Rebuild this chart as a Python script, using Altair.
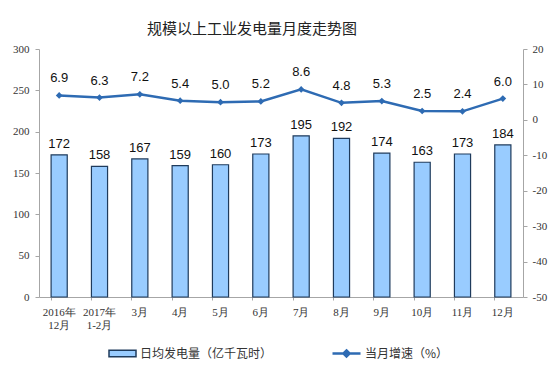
import altair as alt
import pandas as pd

months = ["2016年\n12月", "2017年\n1-2月", "3月", "4月", "5月", "6月",
          "7月", "8月", "9月", "10月", "11月", "12月"]
output = [172, 158, 167, 159, 160, 173, 195, 192, 174, 163, 173, 184]
growth = [6.9, 6.3, 7.2, 5.4, 5.0, 5.2, 8.6, 4.8, 5.3, 2.5, 2.4, 6.0]
bar_name = "日均发电量（亿千瓦时）"
line_name = "当月增速（%）"
left_ticks = [0, 50, 100, 150, 200, 250, 300]
right_ticks = [-50, -40, -30, -20, -10, 0, 10, 20]

df = pd.DataFrame({"month": months, "output": output, "growth": growth,
                   "bs": [bar_name] * len(months), "ls": [line_name] * len(months)})

BAR_FILL = "#99CCFF"
BAR_STROKE = "#1F3B5C"
LINE = "#2E6BB3"
AX = "#A6A6A6"
SERIF = "Liberation Serif"
SANS = "Liberation Sans"
CJK = "Noto Sans CJK SC"

x = alt.X("month:N", sort=months,
          scale=alt.Scale(paddingInner=0.6, paddingOuter=0.3),
          axis=alt.Axis(title=None, labelAngle=0,
                        labelExpr="split(datum.label, '\\n')",
                        labelFont=SERIF, labelFontSize=11, labelColor="#333",
                        labelPadding=6, labelLineHeight=13,
                        domainColor=AX, tickColor=AX, tickSize=3,
                        bandPosition=0, grid=False))

base = alt.Chart(df).encode(x=x)

yl_scale = alt.Scale(domain=[0, 300], nice=False)
yr_scale = alt.Scale(domain=[-50, 20], nice=False)
yl_axis = alt.Axis(title=None, values=left_ticks, labelFont=SERIF,
                   labelFontSize=11, labelColor="#333", domainColor=AX,
                   tickColor=AX, tickSize=4, labelPadding=6, grid=False)
yr_axis = alt.Axis(title=None, orient="right", values=right_ticks,
                   labelExpr="replace(datum.label, '\u2212', '-')",
                   labelFont=SERIF, labelFontSize=11, labelColor="#333",
                   domainColor=AX, tickColor=AX, tickSize=4, labelPadding=5,
                   grid=False)

bars = base.mark_bar(stroke=BAR_STROKE, strokeWidth=1.2).encode(
    y=alt.Y("output:Q", scale=yl_scale, axis=yl_axis),
    fill=alt.Fill("bs:N", scale=alt.Scale(domain=[bar_name], range=[BAR_FILL]),
                  legend=alt.Legend(title=None, orient="none", legendX=69, legendY=290,
                                    symbolType="M-1,-0.24H1V0.24H-1Z", symbolSize=729,
                                    symbolStrokeColor=BAR_STROKE, symbolStrokeWidth=1.5,
                                    labelFont=CJK, labelFontSize=12, labelColor="#333",
                                    labelOffset=3, padding=0)),
)
bar_text = base.mark_text(baseline="bottom", dy=-4, font=SANS, fontSize=13,
                          color="#111").encode(
    y=alt.Y("output:Q", scale=yl_scale, axis=yl_axis),
    text=alt.Text("output:Q"),
)

line = base.mark_line(strokeWidth=2.5).encode(
    y=alt.Y("growth:Q", scale=yr_scale, axis=yr_axis),
    stroke=alt.Stroke("ls:N", scale=alt.Scale(domain=[line_name], range=[LINE]),
                      legend=alt.Legend(title=None, orient="none", legendX=292, legendY=289,
                                        symbolType="M-1,0H1M0,-0.22L0.22,0L0,0.22L-0.22,0Z",
                                        symbolSize=784, symbolStrokeWidth=2.5,
                                        symbolFillColor=LINE, symbolStrokeColor=LINE,
                                        labelFont=CJK, labelFontSize=12, labelColor="#333",
                                        labelOffset=3, padding=0)),
)
points = base.mark_point(shape="diamond", filled=True, size=45, color=LINE,
                         opacity=1).encode(
    y=alt.Y("growth:Q", scale=yr_scale, axis=yr_axis),
)
line_text = base.mark_text(baseline="bottom", dy=-10, font=SANS, fontSize=13,
                           color="#111").encode(
    y=alt.Y("growth:Q", scale=yr_scale, axis=yr_axis),
    text=alt.Text("growth:Q", format=".1f"),
)

left = alt.layer(bars, bar_text)
right = alt.layer(line, points, line_text)

chart = alt.layer(left, right).resolve_scale(y="independent").properties(
    width=484, height=248,
    title=alt.TitleParams("规模以上工业发电量月度走势图", font=CJK, fontSize=15,
                          fontWeight="normal", color="#222", anchor="middle",
                          dx=-29, offset=6),
    autosize=alt.AutoSizeParams(type="none"),
    padding={"left": 31, "top": 41, "right": 25, "bottom": 74},
).configure_view(stroke=None)

chart.save("out.html", embed_options={"renderer": "svg", "actions": False})
